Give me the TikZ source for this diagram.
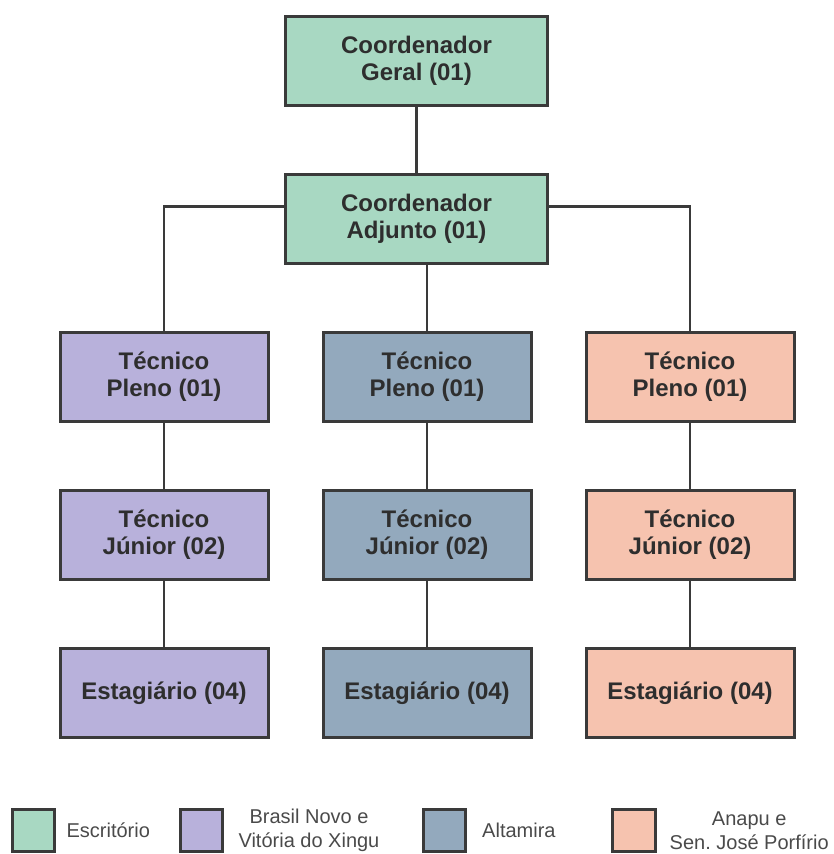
\documentclass[tikz,border=0pt]{standalone}
\usepackage{fontspec}
\setmainfont{Liberation Sans}
\usetikzlibrary{shapes,arrows,positioning,calc}

\definecolor{escritorio}{HTML}{A8D8C2}
\definecolor{brasilnovo}{HTML}{B8B1DB}
\definecolor{altamira}{HTML}{93A9BD}
\definecolor{anapu}{HTML}{F6C3AF}
\definecolor{contorno}{HTML}{3A3A3A}
\definecolor{texto}{HTML}{2E2E2E}
\definecolor{textolegenda}{HTML}{4A4A4A}

\tikzset{
    cargo/.style={draw=contorno, line width=2.2pt, rectangle, minimum width=156pt, minimum height=66.75pt, align=center, font=\bfseries\fontsize{18}{20.5}\selectfont, text=texto},
    ligacao/.style={draw=contorno, line width=2.1pt},
    legenda/.style={draw=contorno, line width=2.2pt, rectangle, minimum size=32pt, inner sep=0pt},
    rotulo/.style={align=center, font=\fontsize{15}{18}\selectfont, text=textolegenda, inner sep=0pt}
}

\begin{document}
\begin{tikzpicture}[x=0.75pt, y=-0.75pt, node distance=118.5pt]
    \useasboundingbox (0,0) rectangle (834,854);

    \node (geral) [cargo, fill=escritorio, minimum width=196.5pt] at (416.5,61) {Coordenador\\Geral (01)};
    \node (adjunto) [cargo, fill=escritorio, minimum width=196.5pt, below of=geral] {Coordenador\\Adjunto (01)};

    \node (pleno2) [cargo, fill=altamira, below of=adjunto, xshift=7.9pt] {Técnico\\Pleno (01)};
    \node (pleno1) [cargo, fill=brasilnovo, left of=pleno2, node distance=197.25pt] {Técnico\\Pleno (01)};
    \node (pleno3) [cargo, fill=anapu, right of=pleno2, node distance=197.25pt] {Técnico\\Pleno (01)};

    \node (junior1) [cargo, fill=brasilnovo, below of=pleno1] {Técnico\\Júnior (02)};
    \node (junior2) [cargo, fill=altamira, below of=pleno2] {Técnico\\Júnior (02)};
    \node (junior3) [cargo, fill=anapu, below of=pleno3] {Técnico\\Júnior (02)};

    \node (estagio1) [cargo, fill=brasilnovo, below of=junior1] {Estagiário (04)};
    \node (estagio2) [cargo, fill=altamira, below of=junior2] {Estagiário (04)};
    \node (estagio3) [cargo, fill=anapu, below of=junior3] {Estagiário (04)};

    \draw [ligacao] (geral) -- (adjunto);
    \draw [ligacao] (adjunto.south -| pleno2.north) -- (pleno2.north);
    \draw [ligacao] ([yshift=9.4pt]adjunto.west) -| (pleno1.north);
    \draw [ligacao] ([yshift=9.4pt]adjunto.east) -| (pleno3.north);
    \foreach \c in {1,2,3} {
        \draw [ligacao] (pleno\c) -- (junior\c);
        \draw [ligacao] (junior\c) -- (estagio\c);
    }

    % legenda
    \node (legesc) [legenda, fill=escritorio] at (33.5,830.5) {};
    \node (rotesc) [rotulo, right=7.5pt of legesc] {Escritório};
    \node (legbra) [legenda, fill=brasilnovo] at (201.5,830.5) {};
    \node (rotbra) [rotulo, right=10.5pt of legbra] {Brasil Novo e\\Vitória do Xingu};
    \node (legalt) [legenda, fill=altamira] at (444.5,830.5) {};
    \node (rotalt) [rotulo, right=11pt of legalt] {Altamira};
    \node (legana) [legenda, fill=anapu] at (634,830.5) {};
    \node (rotana) [rotulo, right=9.5pt of legana] {Anapu e\\Sen.\ José Porfírio};
\end{tikzpicture}
\end{document}
